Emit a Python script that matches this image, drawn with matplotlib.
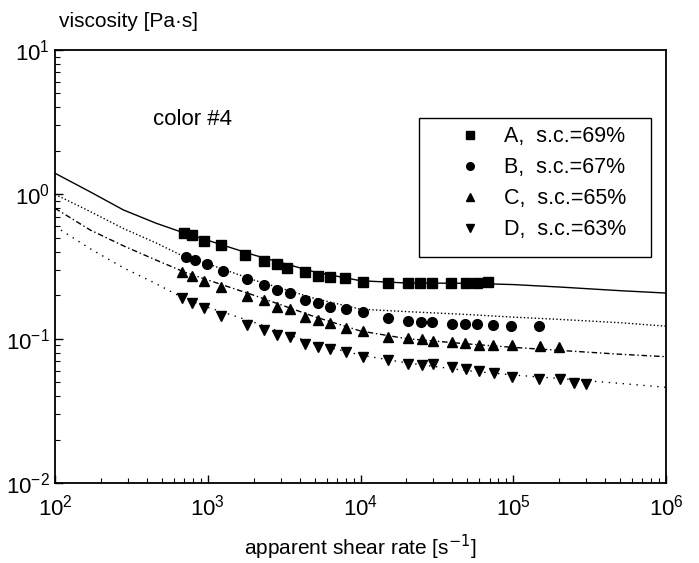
import numpy as np
import matplotlib
matplotlib.use('Agg')
import matplotlib.pyplot as plt
from matplotlib.lines import Line2D
from matplotlib.patches import Rectangle

plt.rcParams['font.family'] = ['Liberation Sans', 'DejaVu Sans']

rate_A = [699, 788, 944, 1222, 1754, 2335, 2840, 3300, 4330, 5270, 6310,
          7920, 10390, 15140, 20470, 24540, 29400, 39100, 49070, 57960, 68400]
visc_A = [0.539, 0.523, 0.475, 0.445, 0.380, 0.345, 0.329, 0.308, 0.290, 0.272, 0.267,
          0.263, 0.247, 0.243, 0.243, 0.243, 0.243, 0.243, 0.243, 0.243, 0.247]

rate_B = [720, 830, 990, 1260, 1820, 2335, 2840, 3450, 4330, 5270, 6310,
          8040, 10390, 15140, 20470, 24900, 29400, 39700, 48300, 58000, 73600, 96600, 147600]
visc_B = [0.368, 0.351, 0.329, 0.294, 0.259, 0.235, 0.217, 0.207, 0.185, 0.177, 0.166,
          0.160, 0.153, 0.139, 0.132, 0.130, 0.130, 0.126, 0.126, 0.126, 0.124, 0.122, 0.122]

rate_C = [680, 790, 944, 1222, 1820, 2335, 2840, 3450, 4330, 5270, 6310,
          8040, 10390, 15140, 20470, 25300, 29900, 39700, 48300, 59700, 73600, 98200, 149600, 199600]
visc_C = [0.289, 0.272, 0.251, 0.228, 0.197, 0.185, 0.166, 0.160, 0.141, 0.135, 0.128,
          0.118, 0.113, 0.1026, 0.101, 0.0993, 0.0962, 0.0947, 0.0933, 0.0903, 0.0903, 0.0903,
          0.0889, 0.0875]

rate_D = [680, 790, 944, 1222, 1820, 2335, 2840, 3450, 4330, 5270, 6310,
          8040, 10390, 15140, 20470, 25300, 29900, 39700, 49000, 59700, 74800, 98200,
          147600, 202000, 250000, 299000]
visc_D = [0.191, 0.177, 0.163, 0.1435, 0.124, 0.1148, 0.106, 0.1026, 0.0918, 0.0875, 0.0848,
          0.0808, 0.0746, 0.0711, 0.0667, 0.0656, 0.0667, 0.0635, 0.0615, 0.0596, 0.0578, 0.0542,
          0.0525, 0.0525, 0.0492, 0.0484]

# ── fitted curves, knots ────────────────────────────────────────
fit_rate = [1e2, 1.7e2, 2.8e2, 4.6e2, 7e2, 1e3, 2e3, 5e3, 1e4, 2e4, 5e4, 1e5, 2e5, 5e5, 1e6]
fit_A = [1.40, 1.04, 0.78, 0.63, 0.54, 0.48, 0.38, 0.29, 0.252, 0.243, 0.242, 0.237, 0.228, 0.215, 0.207]
fit_B = [1.00, 0.76, 0.58, 0.46, 0.37, 0.33, 0.255, 0.19, 0.160, 0.154, 0.147, 0.141, 0.136, 0.129, 0.122]
fit_C = [0.80, 0.566, 0.44, 0.35, 0.29, 0.255, 0.20, 0.142, 0.113, 0.100, 0.092, 0.087, 0.083, 0.078, 0.075]
fit_D = [0.60, 0.42, 0.31, 0.24, 0.19, 0.165, 0.13, 0.092, 0.077, 0.068, 0.060, 0.056, 0.053, 0.049, 0.046]

labels  = ['A,  s.c.=69%', 'B,  s.c.=67%', 'C,  s.c.=65%', 'D,  s.c.=63%']
markers = ['s', 'o', '^', 'v']
msizes  = [6.5, 7, 7.5, 7.5]
styles  = ['-', (0, (1, 1.6)), (0, (4, 2, 1, 2)), (0, (1, 4))]

fig = plt.figure(figsize=(6.99, 5.63), dpi=100)
ax = fig.add_axes([0.0787, 0.1421, 0.8741, 0.7691])

series = [(rate_A, visc_A, fit_A), (rate_B, visc_B, fit_B),
          (rate_C, visc_C, fit_C), (rate_D, visc_D, fit_D)]
for (xr, yv, fit), mk, ms, ls in zip(series, markers, msizes, styles):
    ax.plot(fit_rate, fit, color='black', lw=1.0, ls=ls)
    ax.plot(xr, yv, ls='none', marker=mk, ms=ms, color='black')

ax.set_xscale('log')
ax.set_yscale('log')
ax.set_xlim(1e2, 1e6)
ax.set_ylim(1e-2, 1e1)
ax.tick_params(which='both', direction='in', top=False, right=False, labelsize=16)
ax.tick_params(which='major', length=6, width=1)
ax.tick_params(which='minor', length=3.5, width=0.8)
ax.tick_params(axis='x', pad=8)
for s in ax.spines.values():
    s.set_linewidth(1.3)

ax.set_xlabel('apparent shear rate [s$^{-1}$]', fontsize=15, labelpad=9)
fig.text(0.084, 0.962, 'viscosity [Pa·s]', fontsize=15, ha='left', va='center')
ax.text(0.16, 0.84, 'color #4', transform=ax.transAxes, fontsize=16, ha='left', va='center')

# legend: markers + labels without frame, box drawn separately
handles = [Line2D([], [], ls='none', marker=mk, ms=5.5, color='black') for mk in markers]
leg = ax.legend(handles, labels, loc='upper left', bbox_to_anchor=(0.662, 0.8235),
                fontsize=15.5, frameon=False, handlelength=1.0, handletextpad=1.05,
                labelspacing=0.46, borderpad=0, borderaxespad=0)
ax.add_patch(Rectangle((0.596, 0.522), 0.379, 0.321, transform=ax.transAxes,
                       fill=False, lw=1.0, ec='black', zorder=5))

plt.savefig('out.png', dpi=100)
